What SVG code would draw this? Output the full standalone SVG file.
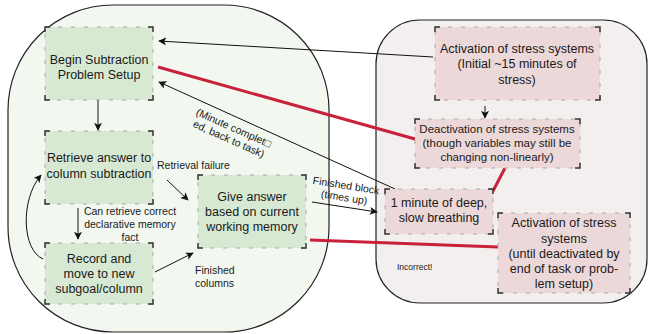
<svg xmlns="http://www.w3.org/2000/svg" width="649" height="334" viewBox="0 0 649 334">
<style>
text{font-family:"Liberation Sans",Arial,sans-serif;fill:#1a1a1a}
.n{font-size:12.5px;text-anchor:middle}
.l{font-size:10.5px}
.g{fill:#d8e9d3}
.p{fill:#ecd8d8}
.dash{fill:none;stroke:#a8a8a8;stroke-width:1;stroke-dasharray:4 9}
.cor{fill:none;stroke:#333;stroke-width:1.5}
.ln{fill:none;stroke:#111;stroke-width:1}
.red{fill:none;stroke:#c8213a;stroke-width:3}
</style>
<defs>
<marker id="ah" viewBox="0 0 10 10" refX="9" refY="5" markerWidth="8" markerHeight="8" markerUnits="userSpaceOnUse" orient="auto">
<path d="M0,0 L10,5 L0,10 L2.5,5 Z" fill="#111"/>
</marker>
</defs>
<g id="panels">
<rect x="8" y="5" width="321" height="327" rx="105" ry="105" fill="#f2f8f0" stroke="#222" stroke-width="1.2"/>
<rect x="376" y="20" width="271" height="283" rx="44" ry="44" fill="#f4efef" stroke="#222" stroke-width="1.2"/>
</g>
<g id="connectors">
<line class="ln" x1="433" y1="57" x2="159" y2="41" marker-end="url(#ah)"/>
<line class="red" x1="158" y1="67" x2="415" y2="139"/>
<line class="ln" x1="395" y1="189" x2="159" y2="82" marker-end="url(#ah)"/>
<line class="ln" x1="485" y1="106" x2="485" y2="118" marker-end="url(#ah)"/>
<line class="red" x1="505" y1="168" x2="493" y2="191"/>
<line class="red" x1="310" y1="240" x2="498" y2="247"/>
<line class="ln" x1="312" y1="202" x2="377" y2="212" marker-end="url(#ah)"/>
<line class="ln" x1="98" y1="100" x2="98" y2="130" marker-end="url(#ah)"/>
<line class="ln" x1="167" y1="180" x2="188" y2="200" marker-end="url(#ah)"/>
<line class="ln" x1="78" y1="208" x2="78" y2="239" marker-end="url(#ah)"/>
<line class="ln" x1="155" y1="272" x2="193" y2="253" marker-end="url(#ah)"/>
<path class="ln" d="M43,259 C22,250 20,200 41,175" marker-end="url(#ah)"/>
<text class="l" transform="translate(231,134) rotate(24)" text-anchor="middle"><tspan x="0" y="-3">(Minute complet□</tspan><tspan x="0" y="9">ed, back to task)</tspan></text>
<text class="l" transform="translate(345,192) rotate(9)" text-anchor="middle"><tspan x="0" y="-3">Finished block</tspan><tspan x="0" y="9">(times up)</tspan></text>
<text class="l" x="157" y="169">Retrieval failure</text>
<text class="l" text-anchor="middle"><tspan x="130" y="215">Can retrieve correct</tspan><tspan x="130" y="228">declarative memory</tspan><tspan x="130" y="241">fact</tspan></text>
<text class="l"><tspan x="195" y="274">Finished</tspan><tspan x="195" y="287">columns</tspan></text>
<text x="397" y="270" style="font-size:8.5px">Incorrect!</text>
</g>
<g id="begin">
<rect class="g" x="45" y="27" width="108" height="73"/>
<rect class="dash" x="45" y="27" width="108" height="73"/>
<path class="cor" d="M45,32V27H50M148,27H153V32M153,95V100H148M50,100H45V95"/>
<text class="n"><tspan x="99" y="64">Begin Subtraction</tspan><tspan x="99" y="79">Problem Setup</tspan></text>
</g>
<g id="retrieve">
<rect class="g" x="45" y="131" width="108" height="73"/>
<rect class="dash" x="45" y="131" width="108" height="73"/>
<path class="cor" d="M45,136V131H50M148,131H153V136M153,199V204H148M50,204H45V199"/>
<text class="n"><tspan x="99" y="162">Retrieve answer to</tspan><tspan x="99" y="178">column subtraction</tspan></text>
</g>
<g id="record">
<rect class="g" x="45" y="243" width="108" height="61"/>
<rect class="dash" x="45" y="243" width="108" height="61"/>
<path class="cor" d="M45,248V243H50M148,243H153V248M153,299V304H148M50,304H45V299"/>
<text class="n"><tspan x="99" y="263">Record and</tspan><tspan x="99" y="278">move to new</tspan><tspan x="99" y="293">subgoal/column</tspan></text>
</g>
<g id="give">
<rect class="g" x="198" y="175" width="108" height="73"/>
<rect class="dash" x="198" y="175" width="108" height="73"/>
<path class="cor" d="M198,180V175H203M301,175H306V180M306,243V248H301M203,248H198V243"/>
<text class="n"><tspan x="252" y="201">Give answer</tspan><tspan x="252" y="216">based on current</tspan><tspan x="252" y="231">working memory</tspan></text>
</g>
<g id="activation1">
<rect class="p" x="435" y="27" width="165" height="73"/>
<rect class="dash" x="435" y="27" width="165" height="73"/>
<path class="cor" d="M435,32V27H440M595,27H600V32M600,95V100H595M440,100H435V95"/>
<text class="n"><tspan x="517" y="53">Activation of stress systems</tspan><tspan x="517" y="68">(Initial ~15 minutes of</tspan><tspan x="517" y="84">stress)</tspan></text>
</g>
<g id="deactivation">
<rect class="p" x="415" y="119" width="165" height="49"/>
<rect class="dash" x="415" y="119" width="165" height="49"/>
<path class="cor" d="M415,124V119H420M575,119H580V124M580,163V168H575M420,168H415V163"/>
<text class="n" style="font-size:11.5px"><tspan x="497" y="133">Deactivation of stress systems</tspan><tspan x="497" y="147">(though variables may still be</tspan><tspan x="497" y="161">changing non-linearly)</tspan></text>
</g>
<g id="breathing">
<rect class="p" x="385" y="189" width="108" height="45"/>
<rect class="dash" x="385" y="189" width="108" height="45"/>
<path class="cor" d="M385,194V189H390M488,189H493V194M493,229V234H488M390,234H385V229"/>
<text class="n"><tspan x="439" y="207">1 minute of deep,</tspan><tspan x="439" y="222">slow breathing</tspan></text>
</g>
<g id="activation2">
<rect class="p" x="498" y="213" width="132" height="80"/>
<rect class="dash" x="498" y="213" width="132" height="80"/>
<path class="cor" d="M498,218V213H503M625,213H630V218M630,288V293H625M503,293H498V288"/>
<text class="n"><tspan x="564" y="227">Activation of stress</tspan><tspan x="564" y="243">systems</tspan><tspan x="564" y="258">(until deactivated by</tspan><tspan x="564" y="273">end of task or prob-</tspan><tspan x="564" y="288">lem setup)</tspan></text>
</g>
</svg>
